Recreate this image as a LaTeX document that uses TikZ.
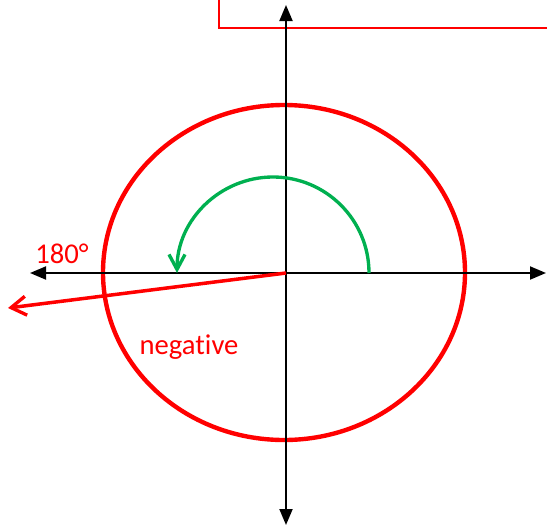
\documentclass[tikz,border=0pt]{standalone}
\usepackage{fontspec}
\setmainfont{Carlito}[RawFeature={-liga;-calt}]
\usepackage{tikz}
\usetikzlibrary{arrows.meta, positioning, calc}

\definecolor{offred}{RGB}{255,0,0}
\definecolor{offgreen}{RGB}{0,176,80}

\begin{document}
\begin{tikzpicture}[
    axisline/.style={draw=black, line width=1.1pt, {Triangle[length=0.32cm, width=0.26cm]}-{Triangle[length=0.32cm, width=0.26cm]}},
    ringline/.style={draw=offred, line width=2.5pt},
    turnline/.style={draw=offgreen, line width=1.9pt, -{Straight Barb[length=0.3cm, width=0.32cm, line width=1.9pt]}},
    rayline/.style={draw=offred, line width=2pt, -{Straight Barb[length=0.3cm, width=0.38cm, line width=1.9pt]}},
    notebox/.style={draw=offred, line width=0.8pt},
    redlabel/.style={text=offred, font=\fontsize{16.3}{18}\selectfont, inner sep=0pt},
]
\useasboundingbox (0,0) rectangle (10.94,10.58);

% Points
\coordinate (origin) at (5.72,5.12);
\coordinate (west) at (0.60,5.12);
\coordinate (east) at (10.92,5.12);
\coordinate (north) at (5.72,10.48);
\coordinate (south) at (5.72,0.08);
\coordinate (arcstart) at (7.38,5.12);
\coordinate (raytip) at (0.16,4.42);

% Note box (cut off at the top)
\begin{scope}
\clip (0,0) rectangle (10.94,10.58);
\draw[notebox] (4.38,11.2) |- (11.2,10.02);
\end{scope}

% Circle
\draw[ringline] (5.68,5.13) ellipse (3.62cm and 3.35cm);

% Axes
\draw[axisline] (west) -- (east);
\draw[axisline] (south) -- (north);

% Green turn of 180
\draw[turnline] (arcstart) arc (0:180:1.92cm);

% Red ray
\draw[rayline] (origin) -- (raytip);

% Labels
\node[redlabel] (halfturn) at (1.24,5.50) {180°};
\node[redlabel] (sense) at (3.78,3.64) {negative};

\end{tikzpicture}
\end{document}
